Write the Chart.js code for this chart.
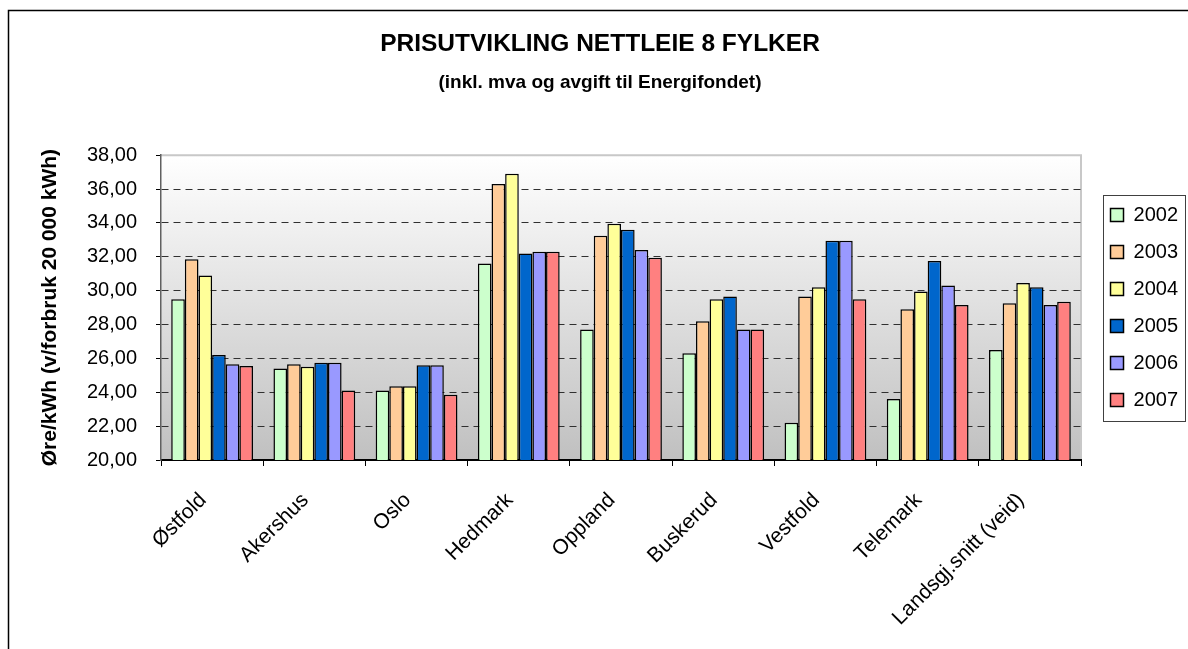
<!DOCTYPE html>
<html>
<head>
<meta charset="utf-8">
<script src="https://cdn.jsdelivr.net/npm/chart.js@4.4.1/dist/chart.umd.min.js"></script>
<style>
  html, body { margin: 0; padding: 0; background: #fff; }
  #wrap { width: 1188px; height: 649px; }
</style>
</head>
<body>
<div id="wrap"><canvas id="chart"></canvas></div>
<script>
// Data
const categories = ['Østfold', 'Akershus', 'Oslo', 'Hedmark', 'Oppland', 'Buskerud', 'Vestfold', 'Telemark', 'Landsgj.snitt (veid)'];
const years = ['2002', '2003', '2004', '2005', '2006', '2007'];
const v2002 = [29.5, 25.4, 24.1, 31.6, 27.7, 26.3, 22.2, 23.6, 26.5];
const v2003 = [31.85, 25.65, 24.35, 36.3, 33.25, 28.2, 29.65, 28.9, 29.25];
const v2004 = [30.9, 25.5, 24.35, 36.9, 33.95, 29.5, 30.2, 29.95, 30.45];
const v2005 = [26.2, 25.75, 25.6, 32.2, 33.6, 29.65, 32.95, 31.75, 30.2];
const v2006 = [25.65, 25.75, 25.6, 32.3, 32.4, 27.7, 32.95, 30.3, 29.15];
const v2007 = [25.55, 24.1, 23.85, 32.3, 31.95, 27.7, 29.5, 29.15, 29.35];
const yMin = 20, yMax = 38, yStep = 2;

const seriesValues = [v2002, v2003, v2004, v2005, v2006, v2007];
const seriesColors = ['#CCFFCC', '#FFCC99', '#FFFF99', '#0066CC', '#9999FF', '#FF8080'];

Chart.defaults.font.family = "'Liberation Sans', Arial, sans-serif";
Chart.defaults.color = '#000';

// background, outer frame, plot area gradient and legend border
const framePlugin = {
    id: 'frame',
    beforeDraw(chart) {
        const { ctx, chartArea: a } = chart;
        ctx.save();
        ctx.fillStyle = '#fff';
        ctx.fillRect(0, 0, chart.width, chart.height);
        ctx.strokeStyle = '#000';
        ctx.lineWidth = 1.5;
        ctx.beginPath();
        ctx.moveTo(8.5, chart.height);
        ctx.lineTo(8.5, 10.5);
        ctx.lineTo(chart.width, 10.5);
        ctx.stroke();

        const g = ctx.createLinearGradient(0, a.top, 0, a.bottom);
        g.addColorStop(0, '#ffffff');
        g.addColorStop(1, '#c0c0c0');
        ctx.fillStyle = g;
        ctx.fillRect(a.left, a.top, a.width, a.height);
        ctx.strokeStyle = '#c8c8c8';
        ctx.lineWidth = 2;
        ctx.beginPath();
        ctx.moveTo(a.left, a.top);
        ctx.lineTo(a.right, a.top);
        ctx.lineTo(a.right, a.bottom);
        ctx.stroke();
        ctx.restore();
    },
    afterDraw(chart) {
        const boxes = chart.legend && chart.legend.legendHitBoxes;
        if (!boxes || !boxes.length) return;
        const last = boxes[boxes.length - 1];
        const ctx = chart.ctx;
        ctx.save();
        ctx.strokeStyle = '#404040';
        ctx.lineWidth = 1;
        const left = Math.round(boxes[0].left - 8) + 0.5;
        const top = Math.round(boxes[0].top - 10) + 0.5;
        const right = Math.round(chart.legend.right - 3) + 0.5;
        const bottom = Math.round(last.top + last.height + 11) + 0.5;
        ctx.strokeRect(left, top, right - left, bottom - top);
        ctx.restore();
    }
};

const ctx = document.getElementById('chart').getContext('2d');
new Chart(ctx, {
    type: 'bar',
    data: {
        labels: categories,
        datasets: years.map((y, i) => ({
            label: y,
            data: seriesValues[i],
            yAxisID: 'y',
            backgroundColor: seriesColors[i],
            borderColor: '#000',
            borderWidth: 1.5,
            borderSkipped: false,
            barPercentage: 1.0,
            categoryPercentage: 0.8
        }))
    },
    options: {
        responsive: true,
        maintainAspectRatio: false,
        animation: false,
        datasets: {
            bar: { barPercentage: 1.0, categoryPercentage: 0.8, inflateAmount: 0 }
        },
        layout: { padding: { left: 12, top: 10, right: 0, bottom: 0 } },
        plugins: {
            title: {
                display: true,
                text: 'PRISUTVIKLING NETTLEIE 8 FYLKER',
                font: { size: 24.5, weight: 'bold' },
                color: '#000',
                padding: { top: 20, bottom: 6 }
            },
            subtitle: {
                display: true,
                text: '(inkl. mva og avgift til Energifondet)',
                font: { size: 19, weight: 'bold' },
                color: '#000',
                padding: { top: 6, bottom: 61 }
            },
            legend: {
                position: 'right',
                fullSize: false,
                labels: {
                    boxWidth: 13,
                    boxHeight: 13,
                    padding: 17,
                    font: { size: 20 },
                    color: '#000'
                }
            },
            tooltip: { enabled: false }
        },
        scales: {
            x: {
                grid: {
                    display: true,
                    drawOnChartArea: false,
                    tickLength: 6,
                    tickColor: '#000'
                },
                border: { display: true, color: '#000', width: 2 },
                ticks: {
                    minRotation: 45,
                    maxRotation: 45,
                    autoSkip: false,
                    padding: 22,
                    labelOffset: -9,
                    font: { size: 21 },
                    color: '#000'
                },
                afterFit(scale) { scale.height = 189; }
            },
            y: {
                min: yMin,
                max: yMax,
                ticks: {
                    stepSize: yStep,
                    padding: 19,
                    font: { size: 20 },
                    color: '#000',
                    callback: v => v.toFixed(2).replace('.', ',')
                },
                grid: {
                    color: c => (c.tick && (c.tick.value === yMin || c.tick.value === yMax)) ? 'rgba(0,0,0,0)' : '#303030',
                    tickBorderDash: [],
                    tickColor: '#000',
                    tickLength: 5,
                    lineWidth: 1
                },
                border: { display: true, color: '#606060', width: 1.5, dash: [7, 5] },
                title: {
                    display: true,
                    text: 'Øre/kWh (v/forbruk 20 000 kWh)',
                    font: { size: 21, weight: 'bold' },
                    color: '#000',
                    padding: { top: 26, bottom: 0 }
                },
                afterFit(scale) { scale.width = 149; }
            },
            yR: {
                type: 'linear',
                position: 'right',
                display: true,
                grid: { display: false },
                ticks: { display: false },
                border: { display: false },
                afterFit(scale) { scale.width = 12.5; }
            }
        }
    },
    plugins: [framePlugin]
});
</script>
</body>
</html>
